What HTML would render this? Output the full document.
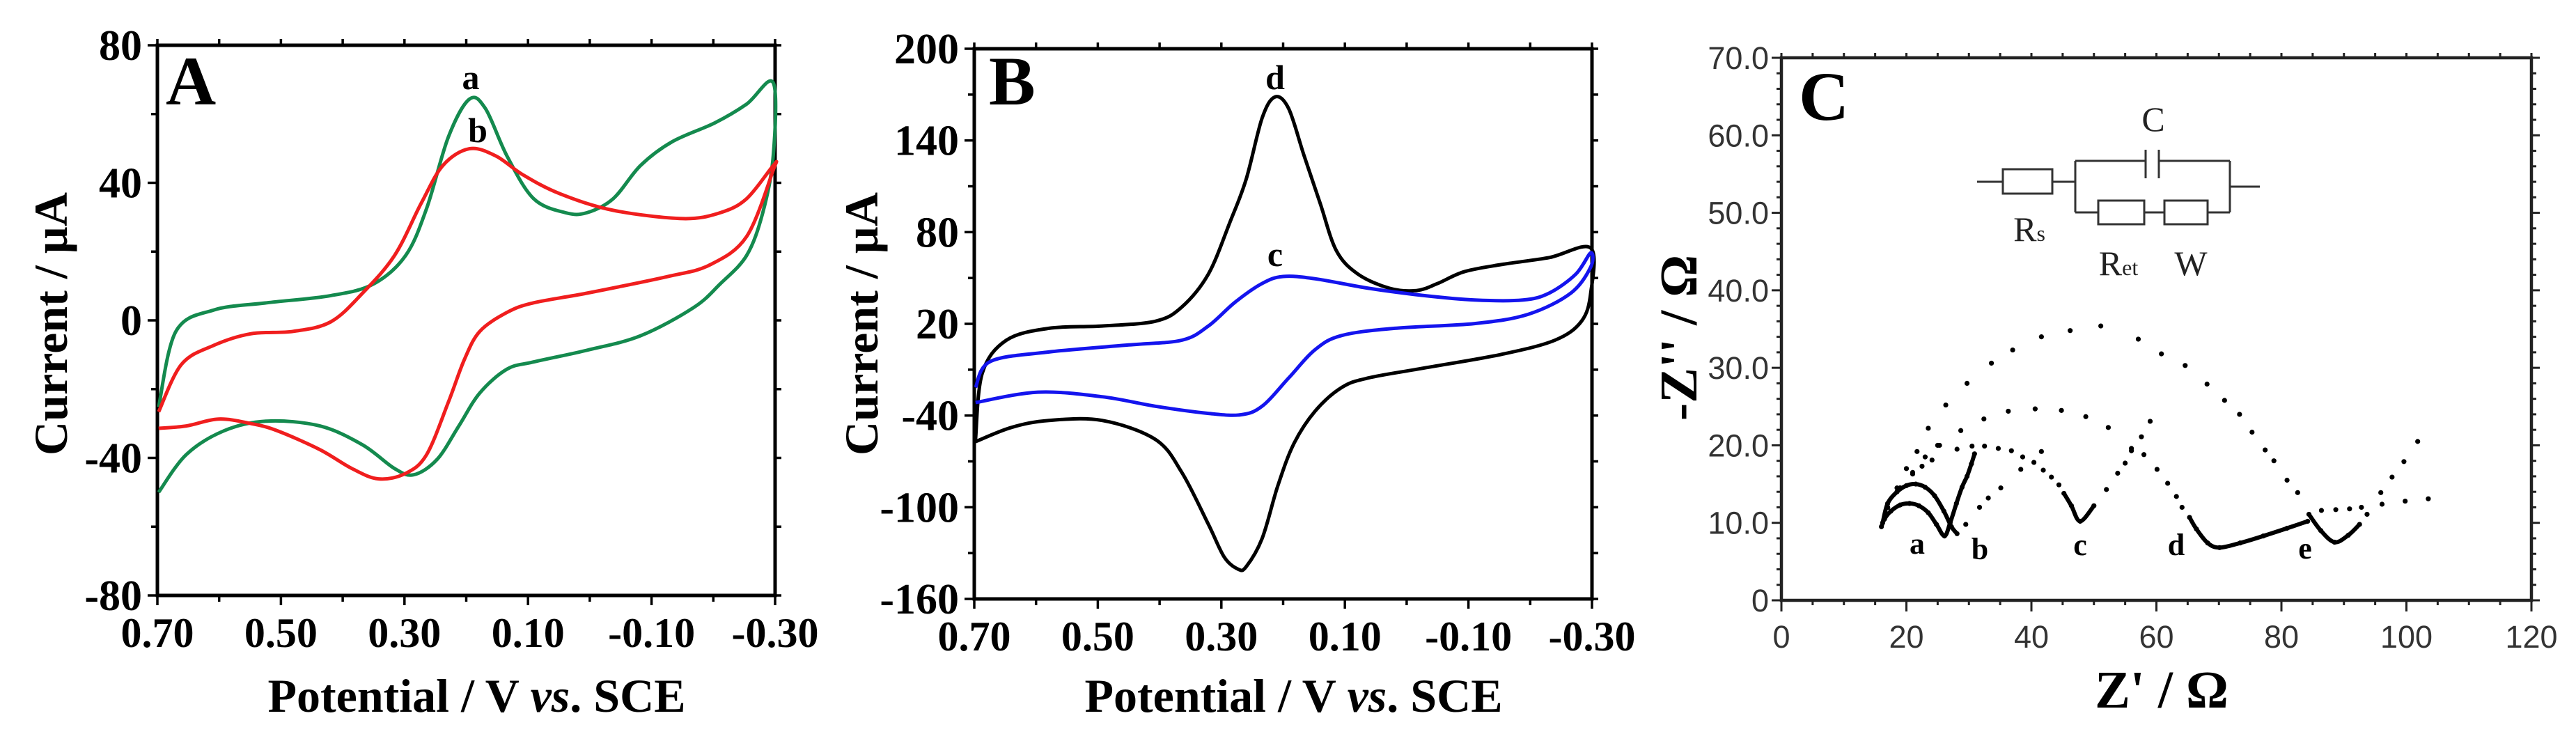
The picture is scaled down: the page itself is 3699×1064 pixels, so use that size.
<!DOCTYPE html>
<html><head><meta charset="utf-8"><style>
html,body{margin:0;padding:0;background:#fff;}
svg{display:block;}
.t{font-family:"Liberation Serif",serif;font-weight:bold;fill:#000;}
.s{font-family:"Liberation Sans",sans-serif;fill:#333;}
</style></head><body>
<svg id="fig" xmlns="http://www.w3.org/2000/svg" width="3699" height="1064" viewBox="0 0 3699 1064">
<rect width="3699" height="1064" fill="#fff"/>
<g id="panelA"></g>
<g id="panelB"></g>
<g id="panelC"></g>
</svg>
<script>
// ---------- Panel A data ----------
const aV=[0.698,0.670,0.609,0.523,0.419,0.350,0.298,0.264,0.229,0.195,0.169,0.134,0.091,0.039,0.005,-0.038,-0.082,-0.133,-0.202,-0.254,-0.297,
 -0.297,-0.280,-0.254,-0.211,-0.168,-0.082,0.005,0.091,0.134,0.178,0.212,0.247,0.285,0.316,0.368,0.437,0.523,0.592,0.653,0.698];
const aI=[-25.2,-3.2,3.0,5.1,7.2,10.6,18.9,32.6,53.3,64.3,61.6,47.8,35.4,31.3,31.3,35.4,45.0,51.9,57.4,62.9,69.1,
 47.8,31.3,18.9,10.6,3.7,-4.5,-8.7,-12.1,-14.2,-21.1,-30.7,-40.4,-44.9,-43.1,-36.2,-30.7,-29.3,-32.1,-39.0,-50.0];
const bV=[0.698,0.661,0.609,0.549,0.480,0.419,0.368,0.316,0.273,0.238,0.195,0.152,0.108,0.048,-0.038,-0.151,-0.211,-0.254,-0.297,
 -0.297,-0.254,-0.194,-0.125,0.005,0.091,0.134,0.178,0.203,0.229,0.264,0.298,0.342,0.385,0.437,0.506,0.549,0.601,0.653,0.698];
const bI=[-26.6,-12.8,-7.3,-3.9,-3.2,-0.4,7.9,18.9,34.0,45.0,49.9,47.8,42.3,36.8,32.0,29.6,31.3,35.4,45.0,
 43.7,24.4,16.1,12.7,7.9,5.1,2.3,-3.2,-11.4,-23.8,-39.0,-44.5,-46.1,-43.1,-37.6,-32.1,-30.0,-28.7,-30.7,-31.4];
const cvXTicks=[0.70,0.50,0.30,0.10,-0.10,-0.30];
const cvXTickLabels=["0.70","0.50","0.30","0.10","-0.10","-0.30"];
const aYTicks=[80,40,0,-40,-80];
// ---------- Panel B data ----------
const dV=[0.698,0.687,0.648,0.579,0.493,0.407,0.364,0.321,0.286,0.260,0.234,0.213,0.191,0.166,0.140,0.114,0.079,0.028,-0.016,-0.050,-0.093,-0.153,-0.231,-0.298,
 -0.298,-0.283,-0.240,-0.153,-0.024,0.062,0.105,0.148,0.183,0.209,0.234,0.260,0.273,0.295,0.321,0.364,0.407,0.493,0.579,0.640,0.698];
const dI=[-55.6,-12.3,9.3,17.1,18.6,21.7,31.0,52.6,86.6,114.4,154.6,168.5,160.8,129.9,98.9,68.0,52.6,43.3,41.8,46.4,54.1,58.8,63.4,69.6,
 40.2,21.7,9.3,0.0,-9.2,-15.4,-21.6,-37.0,-58.7,-86.5,-120.5,-139.0,-140.5,-132.8,-111.2,-77.2,-55.6,-43.2,-43.2,-47.8,-57.1];
const cV=[0.698,0.674,0.579,0.450,0.364,0.321,0.278,0.234,0.200,0.148,0.062,-0.024,-0.110,-0.188,-0.231,-0.274,-0.298,
 -0.298,-0.266,-0.197,-0.110,0.019,0.105,0.148,0.191,0.234,0.269,0.321,0.407,0.493,0.597,0.698];
const cI=[-21.6,-4.6,1.6,6.2,9.3,18.6,34.1,46.4,51.0,49.5,43.3,38.7,35.6,35.6,40.2,52.6,66.5,
 57.2,40.2,26.3,20.2,17.1,12.4,3.2,-15.4,-33.9,-39.5,-38.6,-33.9,-27.7,-24.7,-31.5];
const bYTicks=[200,140,80,20,-40,-100,-160];
// ---------- Panel C data (Z', -Z'') ----------
const eisAx=[16,16.5,17.5,19,20.5,22,23.5,24.8,26.1,27,28,28.9,29.7,30.4,30.9];
const eisAy=[9.5,10.5,11.5,12.3,12.5,12.2,11.3,9.8,8.3,10,12.5,14.6,16.0,17.6,18.9];
const eisBx=[16.2,17,18.5,20,21.5,23,24.5,26,27.2,28.1,29.5,31.7,33.1,35.1,38.3,41.6];
const eisBy=[10,12.5,14,14.8,15,14.6,13.5,11.5,9.5,8.6,9.8,12.0,13.2,14.5,16.9,19.2];
const eisCx=[17,19,21,22.5,24.1,25.3,28.1,30.5,32.5,34.7,36.8,38.6,40.4,41.9,43.2,44.4,45.2,46.4,47.8,50.0,52.0,53.8,55.0,56.0,57.6,59.0];
const eisCy=[12,14.5,16.3,17.3,18.1,20.0,19.5,19.9,19.9,19.6,19.3,18.5,17.8,16.8,15.9,14.9,13.8,12.2,10.2,12.2,14.3,16.4,17.7,19.3,21.1,23.1];
const eisDx=[17,19,21,23,25,28.7,32.4,36.3,40.6,44.8,48.7,52.3,56.0,58.0,60.1,61.8,63.2,64.1,65.3,66.4,68.2,70.1,73.4,77.1,80.9,84.2,86.4,88.7,90.9,92.8,96.1,99.8,103.5];
const eisDy=[12,14.5,16.5,18.5,20,21.9,23.4,24.4,24.7,24.5,23.7,22.3,19.6,18.8,16.9,15.1,13.4,12.0,10.7,9.2,7.4,6.8,7.4,8.3,9.3,10.2,11.6,11.7,11.8,12.0,12.4,12.8,13.1];
const eisEx=[17,18.5,20,21.7,23.5,26.3,29.7,33.6,37.0,41.6,46.2,51.1,57.1,60.8,64.6,68.1,70.9,73.3,75.3,77.4,78.8,80.9,82.6,84.4,86.3,88.5,90.7,92.5,93.7,95.9,97.7,99.6,101.8];
const eisEy=[12,14.5,17,19.2,22.2,25.2,28.0,30.6,32.3,34.0,34.8,35.4,33.7,31.8,30.3,27.9,25.8,24.0,21.7,19.4,18.0,15.5,13.9,11.1,9.0,7.5,8.4,9.8,11.1,13.9,15.9,17.9,20.5];
const eisXTicks=[0,20,40,60,80,100,120];
const eisXTickLabels=["0","20","40","60","80","100","120"];
const eisYTicks=[0,10,20,30,40,50,60,70];
const eisYTickLabels=["0","10.0","20.0","30.0","40.0","50.0","60.0","70.0"];
const eisLabels=["a","b","c","d","e"];

const NS="http://www.w3.org/2000/svg";
function mk(tag,attrs,parent){const e=document.createElementNS(NS,tag);for(const k in attrs)e.setAttribute(k,attrs[k]);parent.appendChild(e);return e;}
function txt(parent,x,y,s,size,anchor,cls,extra){const e=mk('text',Object.assign({x:x,y:y,'font-size':size,'text-anchor':anchor||'middle',class:cls||'t'},extra||{}),parent);e.textContent=s;return e;}
function smooth(pts){let d="M"+pts[0][0].toFixed(1)+","+pts[0][1].toFixed(1);
 for(let i=0;i<pts.length-1;i++){const p0=pts[i-1]||pts[i],p1=pts[i],p2=pts[i+1],p3=pts[i+2]||p2;
  const c1=[p1[0]+(p2[0]-p0[0])/6,p1[1]+(p2[1]-p0[1])/6],c2=[p2[0]-(p3[0]-p1[0])/6,p2[1]-(p3[1]-p1[1])/6];
  d+=" C"+c1[0].toFixed(1)+","+c1[1].toFixed(1)+" "+c2[0].toFixed(1)+","+c2[1].toFixed(1)+" "+p2[0].toFixed(1)+","+p2[1].toFixed(1);}
 return d;}

function cvPanel(g,L,T,R,B,yMax,yMin,yTicks,series,letter,ltrX,ytitleX){
 const xs=v=>L+(0.70-v)/1.0*(R-L), ys=i=>T+(yMax-i)/(yMax-yMin)*(B-T);
 const ax=mk('g',{},g);
 
 
 for(let v=0.70;v>=-0.301;v-=0.1){const X=xs(v);const major=Math.abs(Math.round(v*10))%2===1;const len=major?14:9;
  mk('line',{x1:X,y1:B,x2:X,y2:B+len,stroke:'#000','stroke-width':3.5},ax);
  mk('line',{x1:X,y1:T,x2:X,y2:T-9,stroke:'#000','stroke-width':3.5},ax);}
 const step=(yTicks[0]-yTicks[1])/2;
 for(let i=yMin;i<=yMax+0.01;i+=step){const Y=ys(i);const major=yTicks.some(t=>Math.abs(t-i)<1e-6);
  mk('line',{x1:L,y1:Y,x2:L-(major?14:9),y2:Y,stroke:'#000','stroke-width':3.5},ax);
  mk('line',{x1:R,y1:Y,x2:R+9,y2:Y,stroke:'#000','stroke-width':3.5},ax);}
 yTicks.forEach(t=>{const e=txt(ax,L-22,ys(t)+21,String(t),62,'end');
  
  });
 cvXTicks.forEach((v,k)=>{const e=txt(ax,xs(v),B+74,cvXTickLabels[k],60,'middle');
  
  });
 series.forEach(s=>{const pts=s.v.map((v,k)=>[xs(v),ys(s.i[k])]);
  const p=mk('path',{d:smooth(pts),fill:'none',stroke:s.color,'stroke-width':5,'stroke-linejoin':'round'},g);
  
  
  const lb=txt(g,s.lx,s.ly,s.label,50,'middle');
  
  });
 const fr=mk('rect',{x:L,y:T,width:R-L,height:B-T,fill:'none',stroke:'#000','stroke-width':5},ax);
 
 
 const pl=txt(g,ltrX,150,letter,100,'start');
 
 
 const xt=txt(g,(L+R)/2+15,1022,'',68,'middle');
 xt.innerHTML='Potential / V <tspan font-style="italic">vs</tspan>. SCE';
 
 
 const yt=txt(g,ytitleX,465,'Current / µA',68,'middle',null,{transform:'rotate(-90 '+ytitleX+' 465)',dy:'24'});
 
 
}

cvPanel(document.getElementById('panelA'),226,65,1113,855,80,-80,aYTicks,
 [{v:aV,i:aI,color:'#148a4e',name:'curve-a',label:'a',lx:676,ly:128},
  {v:bV,i:bI,color:'#f01e1e',name:'curve-b',label:'b',lx:686,ly:204}],'A',238,72);
cvPanel(document.getElementById('panelB'),1399,70,2286,860,200,-160,bYTicks,
 [{v:dV,i:dI,color:'#000',name:'curve-d',label:'d',lx:1831,ly:128},
  {v:cV,i:cI,color:'#1414ee',name:'curve-c',label:'c',lx:1831,ly:382}],'B',1420,1236);

// ---------- Panel C ----------
(function(){
 const g=document.getElementById('panelC');
 const L=2558,R=3635,T=83,B=862;
 const xs=z=>L+z/120*(R-L), ys=z=>B-z/70*(B-T);
 const ax=mk('g',{},g);
 
 
 for(let z=0;z<=120;z+=5){const X=xs(z);const major=z%20===0;
  mk('line',{x1:X,y1:B,x2:X,y2:B+(major?16:7),stroke:'#222','stroke-width':3},ax);
  mk('line',{x1:X,y1:T,x2:X,y2:T-7,stroke:'#222','stroke-width':3},ax);}
 for(let z=0;z<=70;z+=2){const Y=ys(z);const major=z%10===0;
  mk('line',{x1:L,y1:Y,x2:L-(major?14:7),y2:Y,stroke:'#222','stroke-width':3},ax);
  mk('line',{x1:R,y1:Y,x2:R+(major?12:7),y2:Y,stroke:'#222','stroke-width':3},ax);}
 mk('rect',{x:L,y:T,width:R-L,height:B-T,fill:'none',stroke:'#222','stroke-width':4.5},ax);
 eisYTicks.forEach((t,k)=>{const e=txt(ax,L-18,ys(t)+16,eisYTickLabels[k],45,'end','s');
  
  });
 eisXTicks.forEach((t,k)=>{const e=txt(ax,xs(t),B+68,eisXTickLabels[k],45,'middle','s');
  
  });
 const series=[
  {x:eisAx,y:eisAy,name:'eis-a',line:[0,eisAx.length]},
  {x:eisBx,y:eisBy,name:'eis-b',line:[0,10]},
  {x:eisCx,y:eisCy,name:'eis-c',line:[16,20]},
  {x:eisDx,y:eisDy,name:'eis-d',line:[18,26]},
  {x:eisEx,y:eisEy,name:'eis-e',line:[23,28]}];
 series.forEach(s=>{const sg=mk('g',{},g);
  
  
  const pts=s.x.map((z,k)=>[xs(z),ys(s.y[k])]);
  const seg=pts.slice(s.line[0],s.line[1]);
  if(seg.length>1)mk('path',{d:smooth(seg),fill:'none',stroke:'#000','stroke-width':6,'stroke-linecap':'round'},sg);
  pts.forEach(p=>mk('circle',{cx:p[0],cy:p[1],r:3.6,fill:'#000'},sg));});
 const lpos=[[2753,795],[2843,803],[2987,797],[3125,797],[3310,802]];
 eisLabels.forEach((s,k)=>{const e=txt(g,lpos[k][0],lpos[k][1],s,44,'middle');
  
  });
 const pl=txt(g,2583,172,'C',100,'start');
 
 
 const xt=txt(g,3104,1016,"Z' / Ω",76,'middle');
 
 
 const yt=txt(g,2410,485,"-Z'' / Ω",76,'middle',null,{transform:'rotate(-90 2410 485)',dy:'26'});
 
 
 const cg=mk('g',{fill:'none',stroke:'#333','stroke-width':3},g);
 
 
 [[2839,261,2876,261],[2947,261,2980,261],[2980,231,2980,305],[2980,231,3081,231],[3100,231,3202,231],[3202,231,3202,305],
  [2980,305,3013,305],[3079,305,3108,305],[3170,305,3202,305],[3202,268,3245,268],[3081,215,3081,256],[3100,215,3100,256]]
  .forEach(l=>mk('line',{x1:l[0],y1:l[1],x2:l[2],y2:l[3]},cg));
 mk('rect',{x:2876,y:243,width:71,height:35},cg);
 mk('rect',{x:3013,y:288,width:66,height:34},cg);
 mk('rect',{x:3108,y:288,width:62,height:34},cg);
 const nstyle='font-weight:normal;fill:#222';
 const ct=[['C',3092,188],['W',3146,395]];
 ct.forEach(c=>{const e=txt(g,c[1],c[2],c[0],50,'middle',null,{style:nstyle});
  
  });
 const rs=txt(g,2914,346,'',50,'middle',null,{style:nstyle});
 rs.innerHTML='R<tspan font-size="32">s</tspan>';
 
 
 const ret=txt(g,3042,395,'',50,'middle',null,{style:nstyle});
 ret.innerHTML='R<tspan font-size="32">et</tspan>';
 
 
})();
</script>
</body></html>
